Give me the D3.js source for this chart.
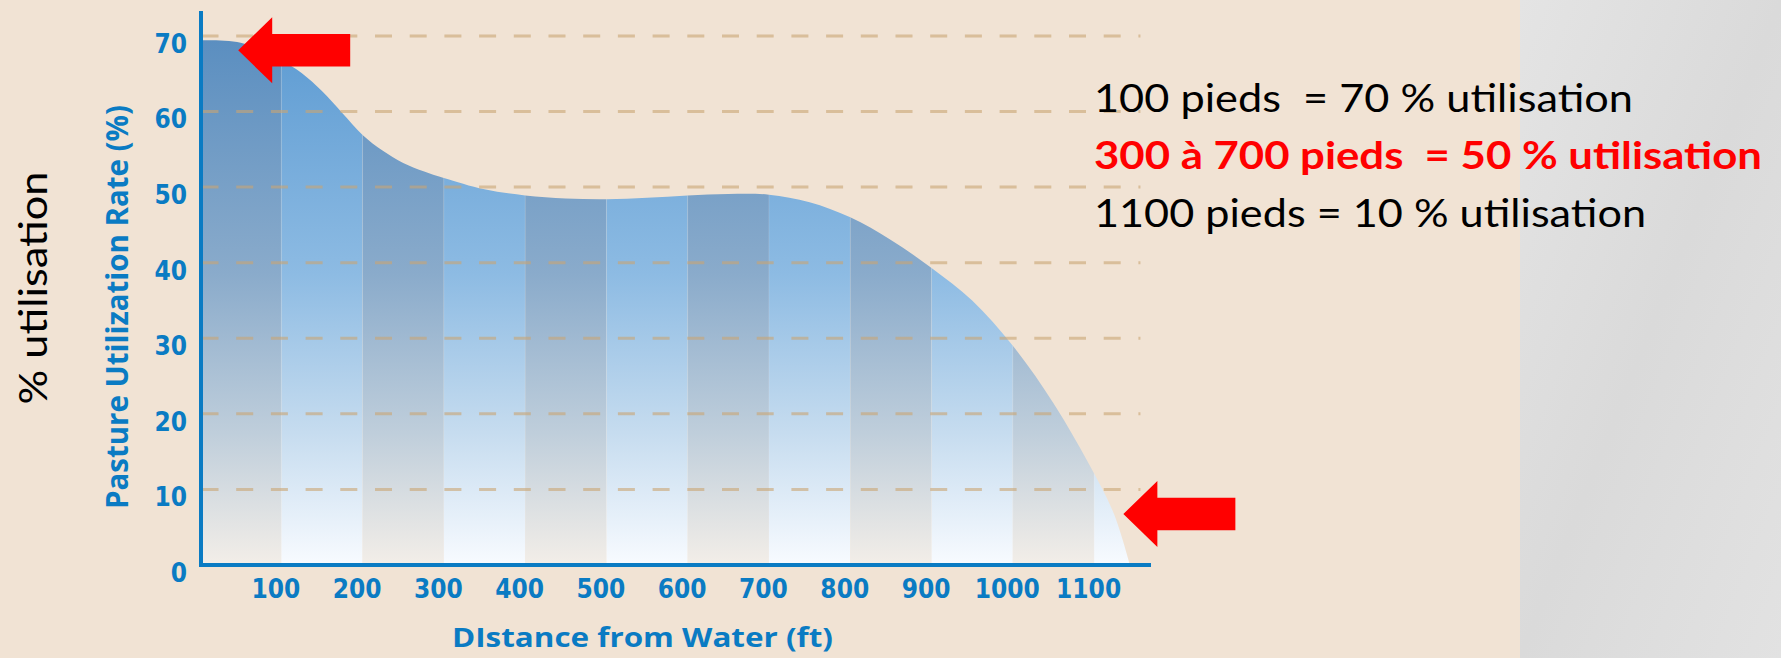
<!DOCTYPE html>
<html><head><meta charset="utf-8">
<script src="https://cdn.jsdelivr.net/npm/d3@7"></script>
<style>
html,body{margin:0;padding:0;background:#f1e3d4;}
svg{display:block;}
</style></head><body>
<svg id="chart" width="1781" height="658"></svg>
<script>
// ---- data ----
const distances   = [0, 50, 100, 125, 150, 175, 200, 225, 250, 275, 300, 350, 400, 450, 500, 550, 600, 650, 700, 750, 800, 850, 900, 950, 1000, 1050, 1100, 1125, 1144];
const utilization = [69.4, 69.1, 66.8, 65.1, 62.7, 59.8, 56.9, 54.8, 53.2, 52.1, 51.2, 49.7, 48.9, 48.5, 48.4, 48.6, 48.9, 49.1, 49.0, 48.0, 46.0, 43.0, 39.3, 35.0, 29.0, 21.4, 12.1, 6.6, 0];
const xTicks = [100, 200, 300, 400, 500, 600, 700, 800, 900, 1000, 1100];
const yTicks = [0, 10, 20, 30, 40, 50, 60, 70];
const gridValues = [10, 20, 30, 40, 50, 60, 70];
const bandStarts = [0, 100, 200, 300, 400, 500, 600, 700, 800, 900, 1000, 1100];
const bandWidth = 100;
const xMax = 1170, yMax = 73.3, gridEnd = 1157;
const arrowTips = [{d: 47, u: 68.1}, {d: 1136, u: 6.75}];
const notes = [
  {text: "100 pieds  = 70 % utilisation", bold: false, color: "#000000", len: 539},
  {text: "300 à 700 pieds  = 50 % utilisation", bold: true, color: "#ff0000", len: 668},
  {text: "1100 pieds = 10 % utilisation", bold: false, color: "#000000", len: 552}
];
const yTitle = "Pasture Utilization Rate (%)";
const xTitle = "DIstance from Water (ft)";
const sideLabel = "% utilisation";

// ---- layout ----
const W = 1781, H = 658;
const svg = d3.select("#chart");
const x = d3.scaleLinear().domain([0, xMax]).range([200, 1151]);
const y = d3.scaleLinear().domain([0, yMax]).range([565, 11]);
const blue = "#0a7bc3";

const defs = svg.append("defs");
function vgrad(id, stops) {
  const g = defs.append("linearGradient").attr("id", id)
    .attr("gradientUnits", "userSpaceOnUse")
    .attr("x1", 0).attr("x2", 0).attr("y1", y(70)).attr("y2", y(0));
  stops.forEach(s => g.append("stop").attr("offset", s[0]).attr("stop-color", s[1]));
}
vgrad("gDark",  [[0, "#5a8ec0"], [0.45, "#8aabcb"], [0.75, "#bfcedb"], [1, "#f3eee8"]]);
vgrad("gLight", [[0, "#5d9bd2"], [0.45, "#8dbbe3"], [0.75, "#c6dcef"], [1, "#f8fbff"]]);
const gg = defs.append("linearGradient").attr("id", "gGray").attr("x1", 0).attr("x2", 1).attr("y1", 0).attr("y2", 1);
gg.append("stop").attr("offset", 0).attr("stop-color", "#e4e4e4");
gg.append("stop").attr("offset", 0.5).attr("stop-color", "#dadada");
gg.append("stop").attr("offset", 1).attr("stop-color", "#e2e2e2");

// background
svg.append("rect").attr("x", 0).attr("y", 0).attr("width", W).attr("height", H).attr("fill", "#f1e3d4");
svg.append("rect").attr("x", 1520).attr("y", 0).attr("width", W - 1520).attr("height", H).attr("fill", "url(#gGray)");

// area
const pts = distances.map((d, i) => ({d, u: utilization[i]}));
const area = d3.area().x(p => x(p.d)).y0(y(0)).y1(p => y(p.u)).curve(d3.curveCatmullRom.alpha(0.5));
defs.append("clipPath").attr("id", "areaClip").append("path").attr("d", area(pts));

const bands = svg.append("g").attr("clip-path", "url(#areaClip)");
bands.selectAll("rect").data(bandStarts).join("rect")
  .attr("x", d => x(d)).attr("width", d => x(d + bandWidth) - x(d))
  .attr("y", y(yMax)).attr("height", y(0) - y(yMax))
  .attr("fill", (d, i) => i % 2 === 0 ? "url(#gDark)" : "url(#gLight)");
bands.selectAll("line").data(bandStarts.slice(1)).join("line")
  .attr("x1", d => x(d)).attr("x2", d => x(d))
  .attr("y1", y(yMax)).attr("y2", y(0))
  .attr("stroke", "#ffffff").attr("stroke-opacity", 0.12).attr("stroke-width", 1);

// gridlines
svg.append("g").selectAll("line").data(gridValues).join("line")
  .attr("x1", x(0) + 1.5).attr("x2", x(gridEnd))
  .attr("y1", d => y(d)).attr("y2", d => y(d))
  .attr("stroke", "#c9a573").attr("stroke-opacity", 0.6)
  .attr("stroke-width", 3).attr("stroke-dasharray", "17 17.7");

// axes
const tickFont = "'Liberation Sans Narrow','DejaVu Sans Condensed',sans-serif";
const xAxis = svg.append("g").attr("transform", `translate(0,${y(0)})`)
  .call(d3.axisBottom(x).tickValues(xTicks).tickFormat(d3.format("d")).tickSize(0).tickSizeOuter(0).tickPadding(0));
xAxis.select(".domain").attr("stroke", blue).attr("stroke-width", 4)
  .attr("d", `M${x(0) - 1},0H${x(xMax)}`);
xAxis.selectAll("text").attr("fill", blue).attr("font-family", tickFont)
  .attr("font-weight", "bold").attr("font-size", 26)
  .attr("dx", -6).attr("y", 33).attr("dy", 0);

const yAxis = svg.append("g").attr("transform", `translate(${x(0) + 1},0)`)
  .call(d3.axisLeft(y).tickValues(yTicks).tickFormat(d3.format("d")).tickSize(0).tickSizeOuter(0).tickPadding(14));
yAxis.select(".domain").attr("stroke", blue).attr("stroke-width", 4)
  .attr("d", `M0,${y(yMax)}V${y(0) + 2}`);
yAxis.selectAll("text").attr("fill", blue).attr("font-family", tickFont)
  .attr("font-weight", "bold").attr("font-size", 26)
  .attr("dy", "0.36em").attr("transform", "translate(0,7)");
svg.selectAll(".tick line").remove();

// axis titles
const titleFont = "'Open Sans','Noto Sans',sans-serif";
svg.append("text").attr("transform", "translate(128,307) rotate(-90)")
  .attr("text-anchor", "middle").attr("fill", blue).attr("font-family", titleFont)
  .attr("font-weight", "bold").attr("font-size", 30)
  .attr("textLength", 404).attr("lengthAdjust", "spacingAndGlyphs").text(yTitle);
svg.append("text").attr("x", 642.5).attr("y", 647)
  .attr("text-anchor", "middle").attr("fill", blue).attr("font-family", titleFont)
  .attr("font-weight", "bold").attr("font-size", 26)
  .attr("textLength", 381).attr("lengthAdjust", "spacingAndGlyphs").text(xTitle);

// side label
const noteFont = "Lato,'Open Sans',sans-serif";
svg.append("text").attr("transform", "translate(47,288) rotate(-90)")
  .attr("text-anchor", "middle").attr("fill", "#000").attr("font-family", noteFont)
  .attr("font-size", 38).attr("textLength", 233).attr("lengthAdjust", "spacingAndGlyphs")
  .text(sideLabel);

// notes
const noteBase = [111.7, 169.3, 226.7];
svg.append("g").selectAll("text").data(notes).join("text")
  .attr("x", 1094).attr("y", (d, i) => noteBase[i])
  .attr("fill", d => d.color).attr("font-family", noteFont)
  .attr("font-weight", d => d.bold ? "bold" : "normal").attr("font-size", 38)
  .style("white-space", "pre")
  .attr("textLength", d => d.len).attr("lengthAdjust", "spacingAndGlyphs")
  .text(d => d.text);

// red arrows (pointing left at data positions)
function arrowPath(tx, ty) {
  const hl = 34, hh = 33, sh = 16.3, L = 112;
  return `M${tx},${ty}L${tx + hl},${ty - hh}L${tx + hl},${ty - sh}L${tx + L},${ty - sh}` +
         `L${tx + L},${ty + sh}L${tx + hl},${ty + sh}L${tx + hl},${ty + hh}Z`;
}
svg.append("g").selectAll("path").data(arrowTips).join("path")
  .attr("d", a => arrowPath(x(a.d), y(a.u))).attr("fill", "#ff0000");
</script>
</body></html>
